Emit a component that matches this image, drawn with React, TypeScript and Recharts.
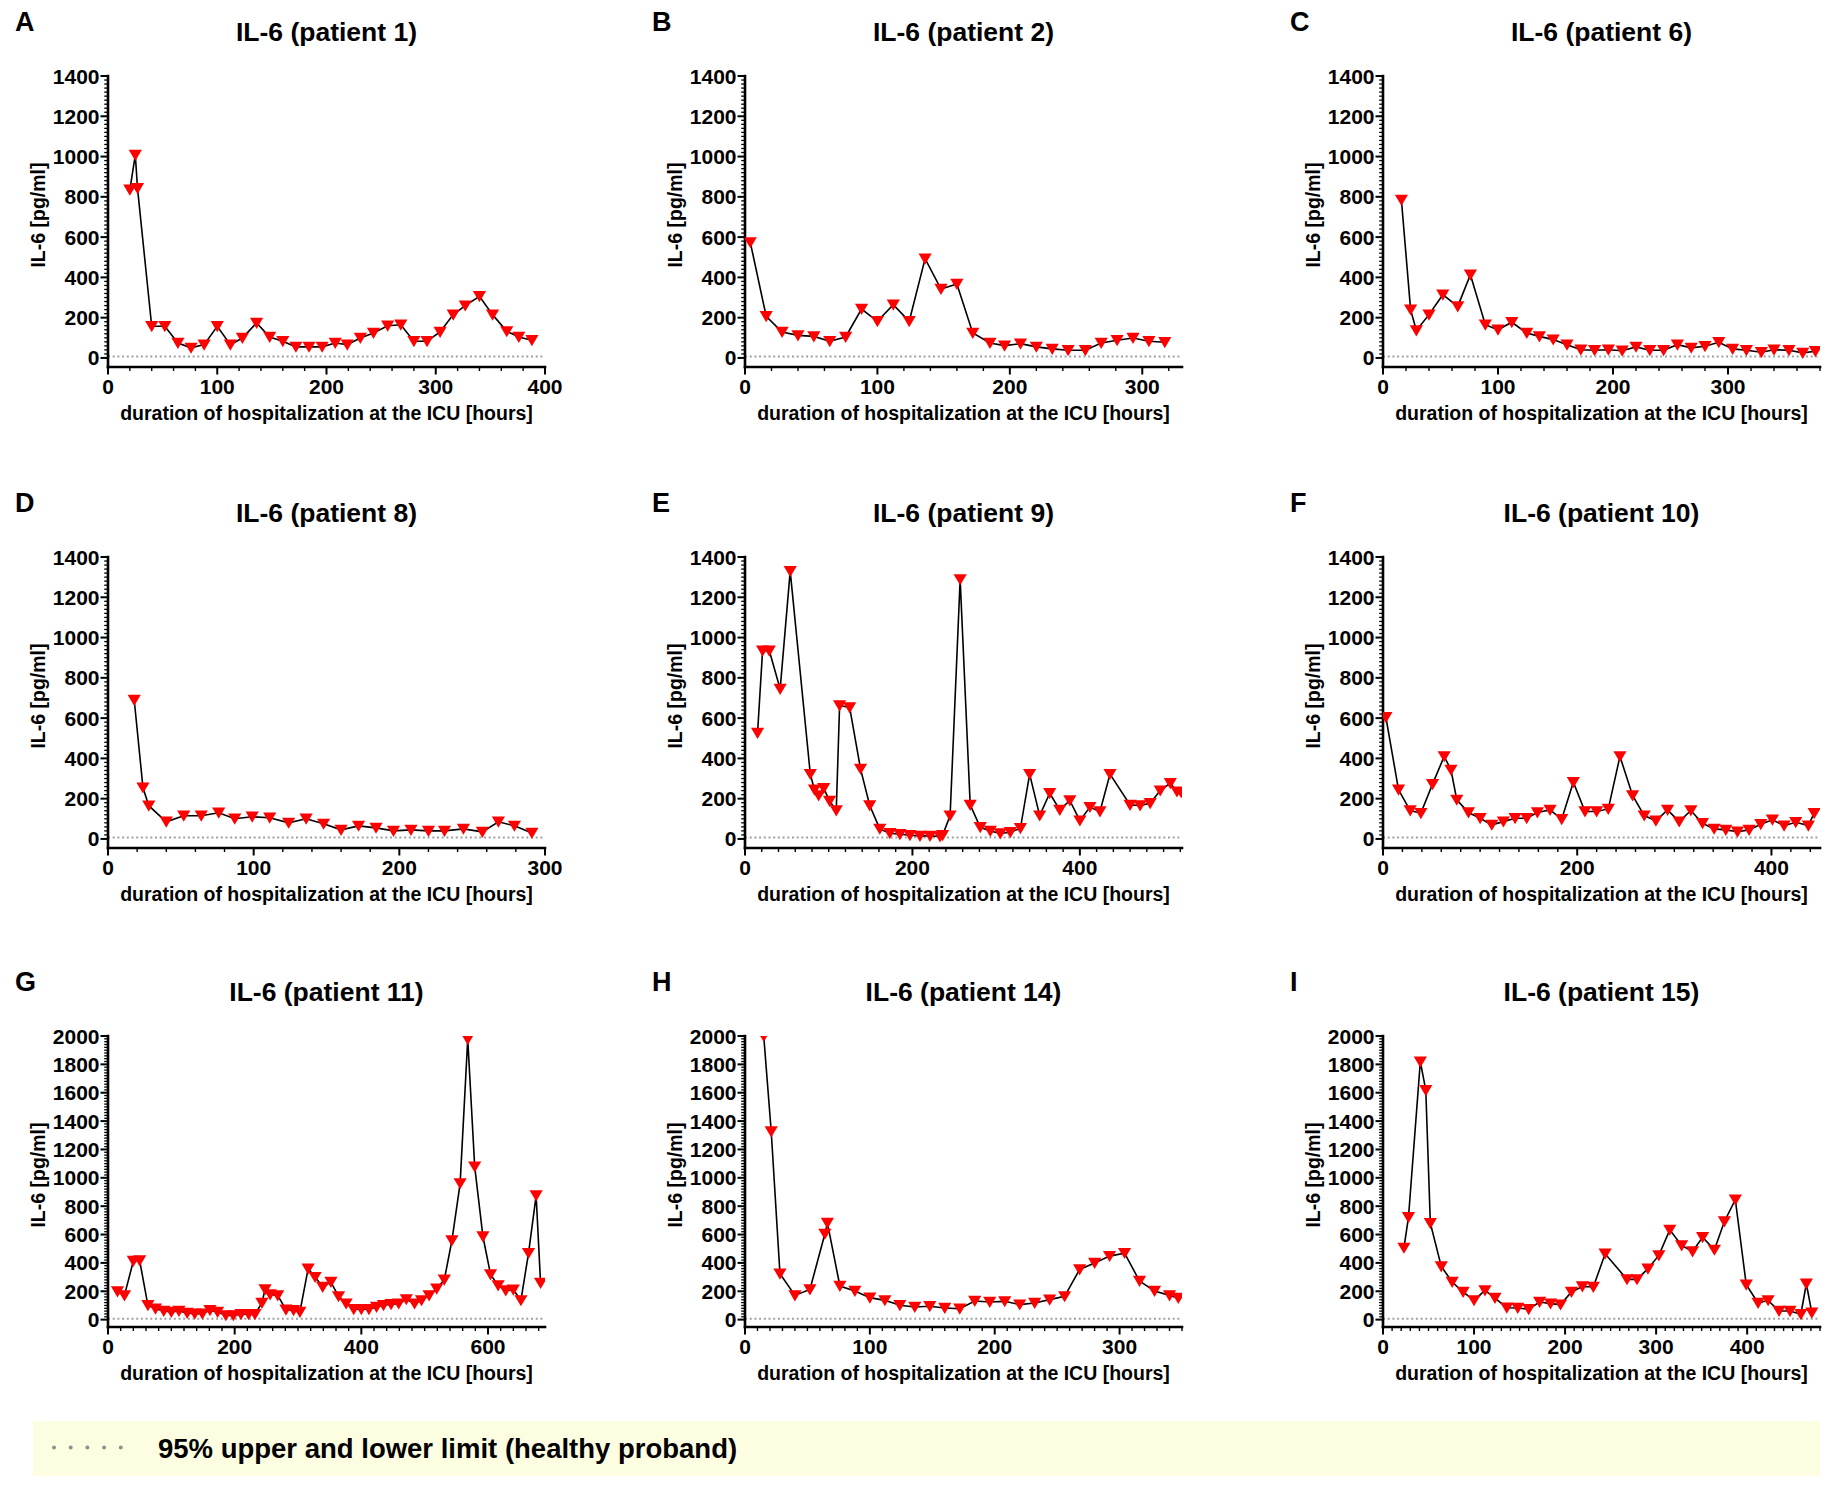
import React from 'react';
import { LineChart, Line, XAxis, YAxis, ReferenceLine } from 'recharts';

const FONT = "'Liberation Sans', Arial, Helvetica, sans-serif";

// ---------- data (hours since ICU admission, IL-6 pg/ml) ----------
const hoursP1 = [20, 25, 27, 40, 52, 64, 76, 88, 100, 112, 123, 136, 148, 160, 172, 184, 196, 208, 219, 231, 243, 256, 268, 280, 292, 304, 316, 327, 340, 352, 365, 376, 388];
const il6P1 = [835, 1008, 843, 157, 157, 74, 50, 66, 157, 66, 99, 174, 104, 83, 55, 55, 55, 74, 66, 99, 124, 160, 165, 83, 83, 129, 215, 260, 306, 215, 132, 104, 88];

const hoursP2 = [4, 16, 28, 40, 52, 64, 76, 88, 100, 112, 124, 136, 148, 160, 172, 185, 196, 208, 220, 232, 244, 257, 269, 281, 293, 305, 317];
const il6P2 = [574, 207, 129, 112, 107, 83, 104, 243, 182, 264, 182, 493, 342, 367, 124, 74, 61, 71, 55, 45, 38, 38, 74, 88, 99, 83, 78];

const hoursP6 = [16, 24, 29, 40, 52, 65, 76, 89, 100, 112, 125, 136, 148, 160, 172, 184, 196, 208, 220, 232, 244, 256, 268, 280, 292, 304, 316, 329, 340, 353, 365, 376];
const il6P6 = [785, 240, 136, 215, 314, 256, 413, 165, 140, 177, 124, 107, 91, 66, 41, 38, 41, 36, 55, 38, 38, 66, 50, 58, 78, 45, 38, 28, 41, 38, 25, 33];

const hoursP8 = [18, 24, 28, 40, 52, 64, 76, 87, 99, 111, 124, 136, 148, 160, 172, 184, 196, 208, 220, 231, 244, 257, 268, 279, 291];
const il6P8 = [690, 255, 165, 85, 115, 115, 130, 100, 110, 105, 80, 100, 75, 45, 65, 55, 40, 45, 40, 40, 50, 35, 85, 65, 30];

const hoursP9 = [15, 21, 29, 42, 54, 78, 83, 88, 94, 101, 109, 113, 125, 138, 149, 161, 173, 185, 197, 209, 221, 233, 236, 245, 257, 269, 281, 293, 305, 317, 329, 340, 352, 364, 376, 388, 400, 412, 424, 436, 460, 472, 484, 496, 508, 516, 521];
const il6P9 = [526, 935, 935, 745, 1330, 322, 244, 216, 252, 189, 141, 663, 653, 348, 166, 50, 28, 23, 18, 15, 15, 12, 18, 116, 1289, 169, 58, 40, 27, 33, 53, 322, 116, 227, 144, 191, 91, 158, 136, 322, 169, 166, 177, 240, 277, 235, 232];

const hoursP10 = [3, 16, 28, 39, 51, 63, 70, 76, 88, 100, 112, 124, 136, 148, 159, 172, 184, 196, 208, 220, 232, 244, 257, 269, 281, 293, 305, 317, 329, 341, 353, 365, 377, 389, 401, 413, 425, 438, 444];
const il6P10 = [604, 244, 141, 128, 272, 410, 343, 194, 131, 103, 70, 86, 103, 103, 131, 144, 98, 282, 136, 136, 149, 410, 216, 116, 90, 144, 86, 141, 78, 50, 45, 36, 45, 73, 95, 66, 83, 66, 128];

const hoursP11 = [15, 26, 40, 50, 63, 75, 88, 100, 112, 125, 137, 149, 161, 173, 186, 198, 210, 222, 232, 243, 248, 256, 268, 281, 293, 303, 316, 327, 339, 352, 364, 376, 388, 400, 412, 424, 435, 447, 459, 471, 484, 495, 507, 519, 531, 543, 556, 568, 579, 592, 604, 616, 628, 640, 652, 664, 676, 683];
const il6P11 = [199, 171, 413, 417, 101, 77, 61, 54, 61, 47, 42, 42, 66, 54, 30, 30, 38, 38, 38, 117, 213, 178, 171, 70, 66, 54, 359, 300, 230, 265, 164, 113, 73, 73, 73, 89, 101, 108, 113, 143, 113, 136, 171, 218, 281, 558, 961, 1978, 1079, 586, 319, 241, 206, 211, 136, 469, 875, 258];

const hoursP14 = [15, 21, 28, 40, 52, 64, 66, 76, 88, 100, 112, 124, 136, 148, 160, 172, 184, 196, 208, 220, 232, 244, 256, 268, 280, 292, 304, 316, 328, 340, 347];
const il6P14 = [2000, 1327, 324, 171, 213, 605, 682, 237, 202, 155, 136, 101, 89, 94, 82, 77, 131, 124, 129, 106, 117, 141, 164, 354, 399, 448, 469, 272, 202, 171, 152];

const hoursP15 = [23, 28, 41, 47, 52, 64, 76, 88, 100, 112, 123, 136, 148, 160, 172, 184, 195, 207, 219, 231, 244, 268, 279, 291, 303, 315, 328, 340, 351, 364, 375, 387, 399, 412, 423, 435, 447, 459, 465, 471];
const il6P15 = [506, 722, 1819, 1618, 680, 375, 265, 195, 136, 206, 152, 84, 82, 73, 124, 113, 106, 195, 234, 230, 464, 284, 284, 359, 453, 633, 523, 481, 581, 492, 692, 846, 246, 117, 136, 61, 61, 38, 253, 49];

// ---------- tick labels ----------
const yTicks1400 = [0, 200, 400, 600, 800, 1000, 1200, 1400];
const yTicks2000 = [0, 200, 400, 600, 800, 1000, 1200, 1400, 1600, 1800, 2000];
const xTicks100to400 = [0, 100, 200, 300, 400];
const xTicks100to300 = [0, 100, 200, 300];
const xTicks200to400 = [0, 200, 400];
const xTicks200to600 = [0, 200, 400, 600];

const HEALTHY_LIMIT = 7;
const LEGEND_TEXT = '95% upper and lower limit (healthy proband)';
const X_TITLE = 'duration of hospitalization at the ICU [hours]';
const Y_TITLE = 'IL-6 [pg/ml]';

function steps(max: number, step: number) {
  const out: number[] = [];
  for (let v = 0; v <= max + 1e-9; v += step) out.push(Math.round(v * 1000) / 1000);
  return out;
}

const renderTri = (p: any) => {
  const { cx, cy, index } = p;
  if (cx == null || cy == null) return <g key={`t${index}`} />;
  return (
    <polygon
      key={`t${index}`}
      points={`${cx - 6.6},${cy - 5.2} ${cx + 6.6},${cy - 5.2} ${cx},${cy + 6}`}
      fill="#ff0000"
    />
  );
};

const PLOT_LEFT = 108;
const PLOT_W = 437;
const CH = 470;

function Panel(props: any) {
  const { letter, title, hours, values, xMax, xMajor, xMinor, yMax, yMin, yMajor, left, top, cw } = props;
  const data = hours.map((h: number, i: number) => ({ h, v: values[i] }));
  const xTicks = steps(xMax, xMinor);
  const yTicks = steps(yMax, 20);
  const xMaj = new Set(xMajor);
  const yMaj = new Set(yMajor);

  const XTick = (p: any) => {
    const { x, y, payload } = p;
    const major = xMaj.has(payload.value);
    return (
      <g>
        <line x1={x} x2={x} y1={y} y2={y + (major ? 7.5 : 4)} stroke="#000" strokeWidth={major ? 2 : 1.4} />
        {major && (
          <text x={x} y={y + 19} dy="0.36em" textAnchor="middle" fontFamily={FONT} fontWeight="bold" fontSize={21} fill="#000">
            {payload.value}
          </text>
        )}
      </g>
    );
  };
  const YTick = (p: any) => {
    const { x, y, payload } = p;
    const major = yMaj.has(payload.value);
    return (
      <g>
        <line x1={x - (major ? 7.5 : 3.8)} x2={x} y1={y} y2={y} stroke="#000" strokeWidth={major ? 2 : 1.3} />
        {major && (
          <text x={x - 8.5} y={y} dy="0.36em" textAnchor="end" fontFamily={FONT} fontWeight="bold" fontSize={21} fill="#000">
            {payload.value}
          </text>
        )}
      </g>
    );
  };

  const bold = { fontFamily: FONT, fontWeight: 'bold' as const, color: '#000', position: 'absolute' as const, whiteSpace: 'nowrap' as const };

  return (
    <div style={{ position: 'absolute', left, top, width: cw, height: CH }}>
      <LineChart width={cw} height={CH} data={data} margin={{ top: 76, left: 48, right: cw - PLOT_LEFT - PLOT_W, bottom: 43 }}>
        <XAxis
          type="number"
          dataKey="h"
          domain={[0, xMax]}
          ticks={xTicks}
          interval={0}
          tickSize={0}
          tickMargin={0}
          tickLine={false}
          tick={<XTick />}
          height={60}
          allowDataOverflow
          axisLine={{ stroke: '#000', strokeWidth: 2.6, strokeLinecap: 'square' }}
        />
        <YAxis
          type="number"
          domain={[yMin, yMax]}
          ticks={yTicks}
          interval={0}
          tickSize={0}
          tickMargin={0}
          tickLine={false}
          tick={<YTick />}
          width={60}
          allowDataOverflow
          axisLine={{ stroke: '#000', strokeWidth: 2.6, strokeLinecap: 'square' }}
        />
        <ReferenceLine y={HEALTHY_LIMIT} stroke="#a0a0a0" strokeWidth={2} strokeDasharray="2 2.7" />
        <Line
          type="linear"
          dataKey="v"
          stroke="#000"
          strokeWidth={1.6}
          dot={renderTri}
          activeDot={false}
          isAnimationActive={false}
        />
      </LineChart>
      <div style={{ ...bold, left: 15, top: 7, fontSize: 27, lineHeight: '30px' }}>{letter}</div>
      <div style={{ ...bold, left: 98, top: 17, width: 457, textAlign: 'center', fontSize: 26.5, lineHeight: '30px' }}>{title}</div>
      <div
        style={{
          ...bold,
          left: 38 - 100,
          top: 215 - 12,
          width: 200,
          height: 24,
          textAlign: 'center',
          fontSize: 19.5,
          lineHeight: '24px',
          transform: 'rotate(-90deg)',
        }}
      >
        {Y_TITLE}
      </div>
      <div style={{ ...bold, left: 98, top: 401, width: 457, textAlign: 'center', fontSize: 19.5, lineHeight: '24px' }}>{X_TITLE}</div>
    </div>
  );
}

const COLS = [0, 637, 1275];
const COL_W = [620, 620, 556];
const ROWS = [0, 481, 960];

const panels = [
  { letter: 'A', title: 'IL-6 (patient 1)', hours: hoursP1, values: il6P1, xMax: 400, xMajor: xTicks100to400, xMinor: 20, yMax: 1400, yMin: -45, yMajor: yTicks1400 },
  { letter: 'B', title: 'IL-6 (patient 2)', hours: hoursP2, values: il6P2, xMax: 330, xMajor: xTicks100to300, xMinor: 20, yMax: 1400, yMin: -45, yMajor: yTicks1400 },
  { letter: 'C', title: 'IL-6 (patient 6)', hours: hoursP6, values: il6P6, xMax: 380, xMajor: xTicks100to300, xMinor: 20, yMax: 1400, yMin: -45, yMajor: yTicks1400 },
  { letter: 'D', title: 'IL-6 (patient 8)', hours: hoursP8, values: il6P8, xMax: 300, xMajor: xTicks100to300, xMinor: 20, yMax: 1400, yMin: -45, yMajor: yTicks1400 },
  { letter: 'E', title: 'IL-6 (patient 9)', hours: hoursP9, values: il6P9, xMax: 522, xMajor: xTicks200to400, xMinor: 20, yMax: 1400, yMin: -45, yMajor: yTicks1400 },
  { letter: 'F', title: 'IL-6 (patient 10)', hours: hoursP10, values: il6P10, xMax: 450, xMajor: xTicks200to400, xMinor: 20, yMax: 1400, yMin: -45, yMajor: yTicks1400 },
  { letter: 'G', title: 'IL-6 (patient 11)', hours: hoursP11, values: il6P11, xMax: 690, xMajor: xTicks200to600, xMinor: 20, yMax: 2000, yMin: -52, yMajor: yTicks2000 },
  { letter: 'H', title: 'IL-6 (patient 14)', hours: hoursP14, values: il6P14, xMax: 350, xMajor: xTicks100to300, xMinor: 10, yMax: 2000, yMin: -52, yMajor: yTicks2000 },
  { letter: 'I', title: 'IL-6 (patient 15)', hours: hoursP15, values: il6P15, xMax: 480, xMajor: xTicks100to400, xMinor: 10, yMax: 2000, yMin: -52, yMajor: yTicks2000 },
];

export default function App() {
  return (
    <div style={{ position: 'absolute', left: 0, top: 0, width: 1831, height: 1487, overflow: 'hidden', background: '#fff' }}>
      {panels.map((p, i) => (
        <Panel key={p.letter} {...p} left={COLS[i % 3]} cw={COL_W[i % 3]} top={ROWS[Math.floor(i / 3)]} />
      ))}
      <div style={{ position: 'absolute', left: 33, top: 1421, width: 1787, height: 55, background: '#fdfde1' }}>
        <svg width={130} height={55} style={{ position: 'absolute', left: 0, top: 0 }}>
          <line x1={21} x2={92} y1={26.5} y2={26.5} stroke="#8f8f8f" strokeWidth={4} strokeLinecap="round" strokeDasharray="0 16.7" />
        </svg>
        <div
          style={{
            position: 'absolute',
            left: 125,
            top: 0,
            fontFamily: FONT,
            fontWeight: 'bold',
            fontSize: 27.5,
            lineHeight: '55px',
            color: '#000',
            whiteSpace: 'nowrap',
          }}
        >
          {LEGEND_TEXT}
        </div>
      </div>
    </div>
  );
}
